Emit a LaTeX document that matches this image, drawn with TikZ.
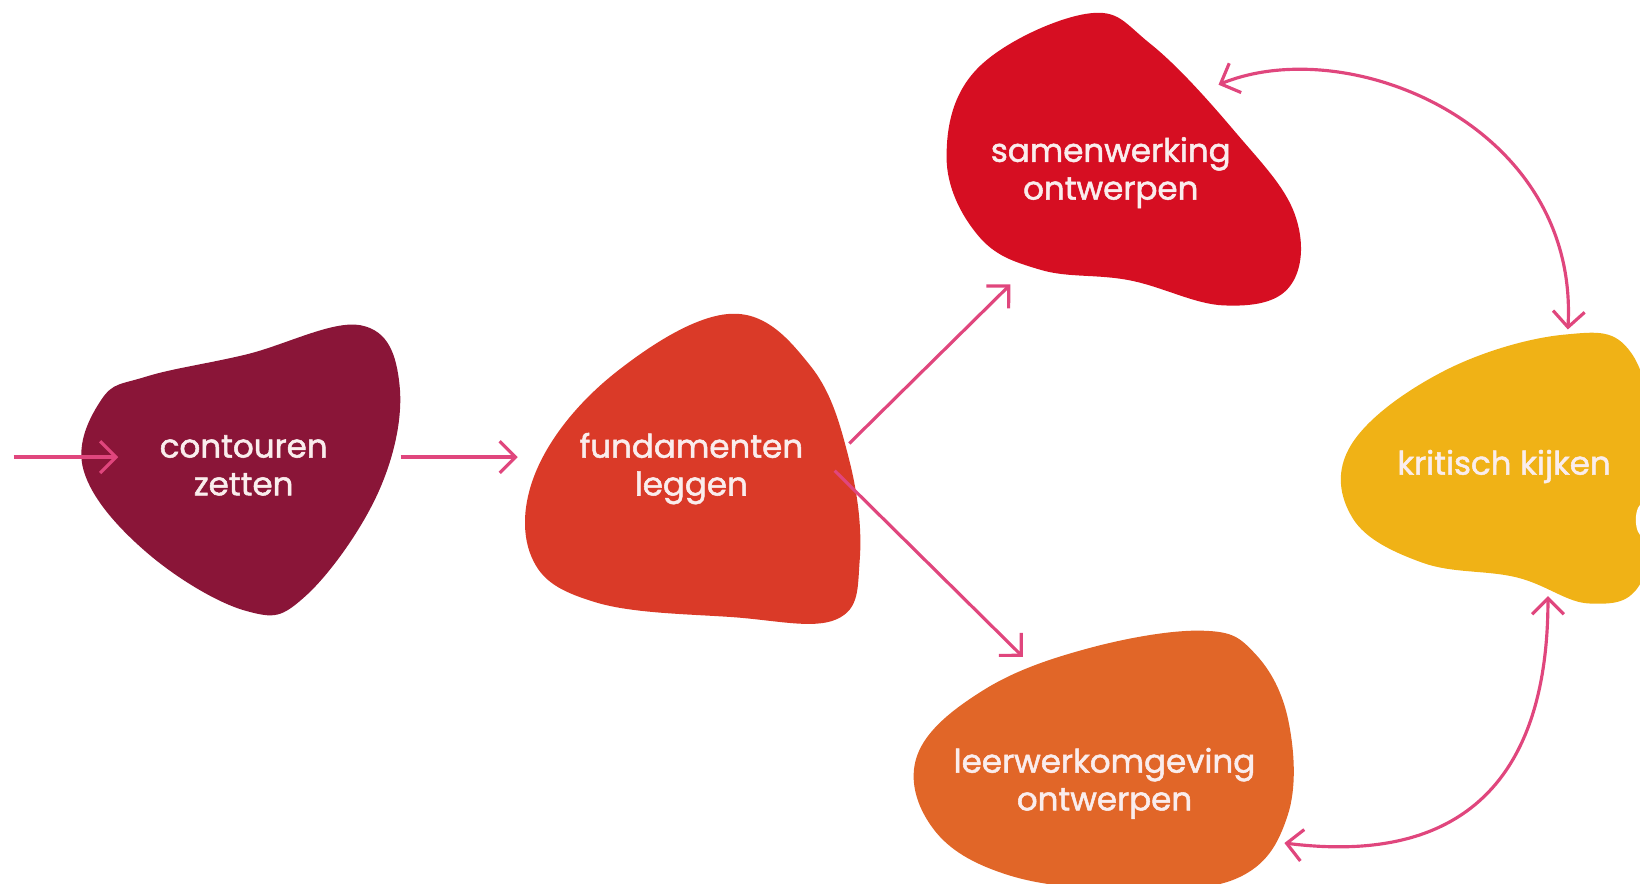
\documentclass[tikz,border=0pt]{standalone}
\usepackage{fontspec}
\setmainfont{Poppins}
\newfontfamily\blobfont{Poppins}[FakeBold=1.6]
\usetikzlibrary{arrows.meta}

\definecolor{maroon}{HTML}{8A1538}
\definecolor{fundred}{HTML}{DA3A28}
\definecolor{samred}{HTML}{D60E22}
\definecolor{crityellow}{HTML}{F0B216}
\definecolor{leerorange}{HTML}{E16628}
\definecolor{arrowpink}{HTML}{E0467D}
\definecolor{blobwhite}{HTML}{FAEDED}

\begin{document}
\begin{tikzpicture}[x=0.020918cm, y=-0.020918cm]
  \tikzstyle{blobtext}=[text=blobwhite, align=center, inner sep=0pt, font=\blobfont\fontsize{18.5}{21.5}\selectfont]
  \tikzstyle{flow}=[draw=arrowpink, line width=1.8pt, -{Straight Barb[length=9pt, width=18pt, line width=1.8pt]}]
  \tikzstyle{both}=[flow, {Straight Barb[length=9pt, width=18pt, line width=1.8pt]}-{Straight Barb[length=9pt, width=18pt, line width=1.8pt]}]

  \useasboundingbox (0,0) rectangle (1568,845);
  \clip (0,0) rectangle (1568,845);

  % blobs
  \fill[maroon] plot[smooth cycle, tension=0.65] coordinates {
    (80,450) (97,382) (140,360) (235,339) (345,311) (382,368) (362,470)
    (292,570) (235,584) (140,528)};
  \fill[fundred] plot[smooth cycle, tension=0.65] coordinates {
    (700,300) (590,355) (515,445) (508,532) (570,576) (700,590)
    (800,592) (822,535) (812,440) (775,350)};
  \fill[samred] plot[smooth cycle, tension=0.65] coordinates {
    (1040,13) (935,65) (905,150) (935,225) (995,258) (1080,268)
    (1170,292) (1233,274) (1238,205) (1180,125) (1100,42)};
  \fill[crityellow] plot[smooth cycle, tension=0.65] coordinates {
    (1495,320) (1380,355) (1292,425) (1293,495) (1360,538) (1450,552)
    (1520,577) (1570,555) (1585,450) (1560,338)};
  \fill[white] (1571,497) ellipse (7 and 16);
  \fill[leerorange] plot[smooth cycle, tension=0.65] coordinates {
    (1150,603) (1040,620) (940,660) (877,722) (892,792) (962,836)
    (1070,850) (1182,840) (1231,780) (1232,690) (1200,625)};

  % labels
  \node[blobtext] (contour) at (233,445)  {contouren\\zetten};
  \node[blobtext] (fund)    at (661,448)  {fundamenten\\leggen};
  \node[blobtext] (samen)   at (1062,165) {samenwerking\\ontwerpen};
  \node[blobtext] (krit)    at (1438,446) {kritisch kijken};
  \node[blobtext] (leer)    at (1056,749) {leerwerkomgeving\\ontwerpen};

  % attach points
  \coordinate (start)    at (13,437);
  \coordinate (contourin) at (113,437);
  \coordinate (contourout) at (383,437);
  \coordinate (fundin)   at (495,437);
  \coordinate (fundup)   at (812,424);
  \coordinate (funddown) at (798,450);
  \coordinate (samenin)  at (966,272);
  \coordinate (samenout) at (1165,81);
  \coordinate (kritup)   at (1499,315);
  \coordinate (kritdown) at (1480,570);
  \coordinate (leerin)   at (978,628);
  \coordinate (leerout)  at (1228,806);

  \path (start) edge[flow] (contourin);
  \path (contourout) edge[flow] (fundin);
  \path (fundup) edge[flow] (samenin);
  \path (funddown) edge[flow] (leerin);
  \draw[both] (samenout) .. controls (1290,30) and (1510,120) .. (kritup);
  \draw[both] (kritdown) .. controls (1480,720) and (1420,830) .. (leerout);
\end{tikzpicture}
\end{document}
